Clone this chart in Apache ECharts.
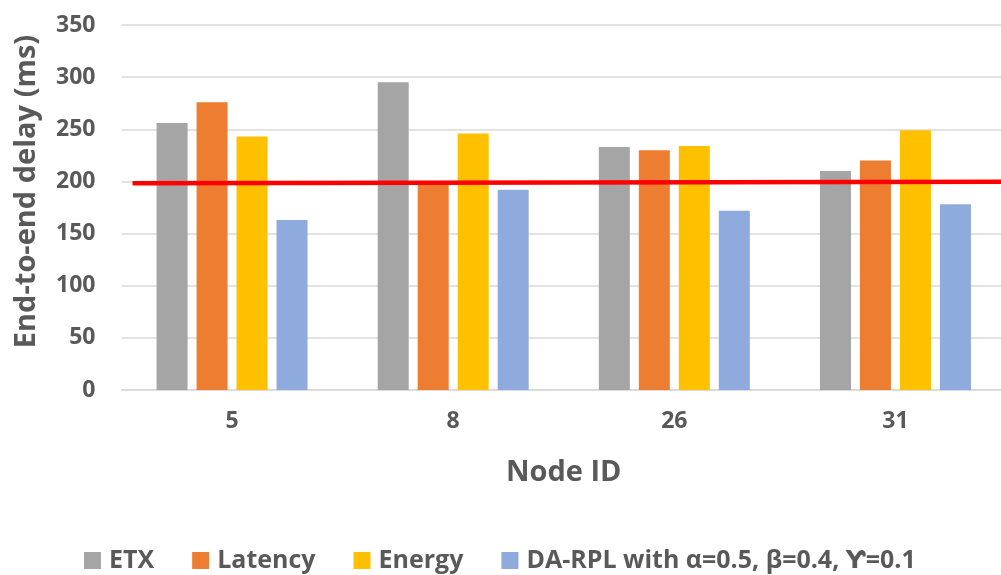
<!DOCTYPE html>
<html>
<head>
<meta charset="utf-8">
<script src="https://cdn.jsdelivr.net/npm/echarts@6/dist/echarts.min.js"></script>
<style>
html,body{margin:0;padding:0;background:#fff;overflow:hidden;}
#chart{width:1006px;height:575px;}
</style>
</head>
<body>
<div id="chart"></div>
<script>
const categories = ['5', '8', '26', '31'];
const seriesNames = ['ETX', 'Latency', 'Energy', 'DA-RPL with \u03b1=0.5, \u03b2=0.4, \u01b3=0.1'];
const etxValues = [256, 295, 233, 210];
const latencyValues = [276, 198, 230, 220];
const energyValues = [243, 246, 234, 249];
const daRplValues = [163, 192, 172, 178];
const seriesColors = ['#A5A5A5', '#ED7D31', '#FFC000', '#8FAADC'];
const redLineX = [0.05, 4.0];
const redLineY = [198.3, 199.7];
const yTicks = [0, 50, 100, 150, 200, 250, 300, 350];

const textColor = '#595959';
const fontFamily = '"Open Sans", "DejaVu Sans", sans-serif';

const chart = echarts.init(document.getElementById('chart'), null, {renderer: 'canvas'});
const allValues = [etxValues, latencyValues, energyValues, daRplValues];

const series = allValues.map((vals, i) => ({
  name: seriesNames[i],
  type: 'bar',
  xAxisIndex: 0,
  yAxisIndex: 0,
  data: vals,
  barWidth: 31,
  barGap: '29%',
  itemStyle: {color: seriesColors[i]},
  emphasis: {disabled: true},
  animation: false
}));

series.push({
  name: 'threshold',
  type: 'line',
  xAxisIndex: 1,
  yAxisIndex: 0,
  data: redLineX.map((x, i) => [x, redLineY[i]]),
  symbol: 'none',
  lineStyle: {color: '#FF0000', width: 4.5},
  z: 10,
  animation: false,
  silent: true
});

const option = {
  animation: false,
  grid: {left: 121.5, right: 0, top: 25, bottom: 185, containLabel: false},
  legend: {
    data: seriesNames,
    left: 84,
    top: 548,
    padding: 0,
    itemWidth: 17,
    itemHeight: 17,
    itemGap: 38,
    icon: 'rect',
    textStyle: {color: textColor, fontSize: 25, fontWeight: 'bold', fontFamily: fontFamily, padding: [0, 0, 0, 3]}
  },
  xAxis: [{
    type: 'category',
    data: categories,
    name: 'Node ID',
    nameLocation: 'middle',
    nameGap: 68,
    nameTextStyle: {color: textColor, fontSize: 29, fontWeight: 'bold', fontFamily: fontFamily},
    axisLine: {show: true, lineStyle: {color: '#D9D9D9', width: 1.5}},
    axisTick: {show: false},
    axisLabel: {color: textColor, fontSize: 23, fontWeight: 'bold', fontFamily: fontFamily, margin: 20},
    splitLine: {show: false}
  }, {
    type: 'value',
    min: 0,
    max: 4,
    show: false
  }],
  yAxis: [{
    type: 'value',
    min: yTicks[0],
    max: yTicks[yTicks.length - 1],
    interval: 50,
    name: 'End-to-end delay (ms)',
    nameLocation: 'middle',
    nameGap: 80,
    nameRotate: 90,
    nameTextStyle: {color: textColor, fontSize: 29, fontWeight: 'bold', fontFamily: fontFamily, padding: [0, 0, 0, 32]},
    axisLine: {show: false},
    axisTick: {show: false},
    axisLabel: {color: textColor, fontSize: 23, fontWeight: 'bold', fontFamily: fontFamily, margin: 26},
    splitLine: {show: true, lineStyle: {color: '#D9D9D9', width: 1.5}}
  }],
  series: series
};

chart.setOption(option);
</script>
</body>
</html>
